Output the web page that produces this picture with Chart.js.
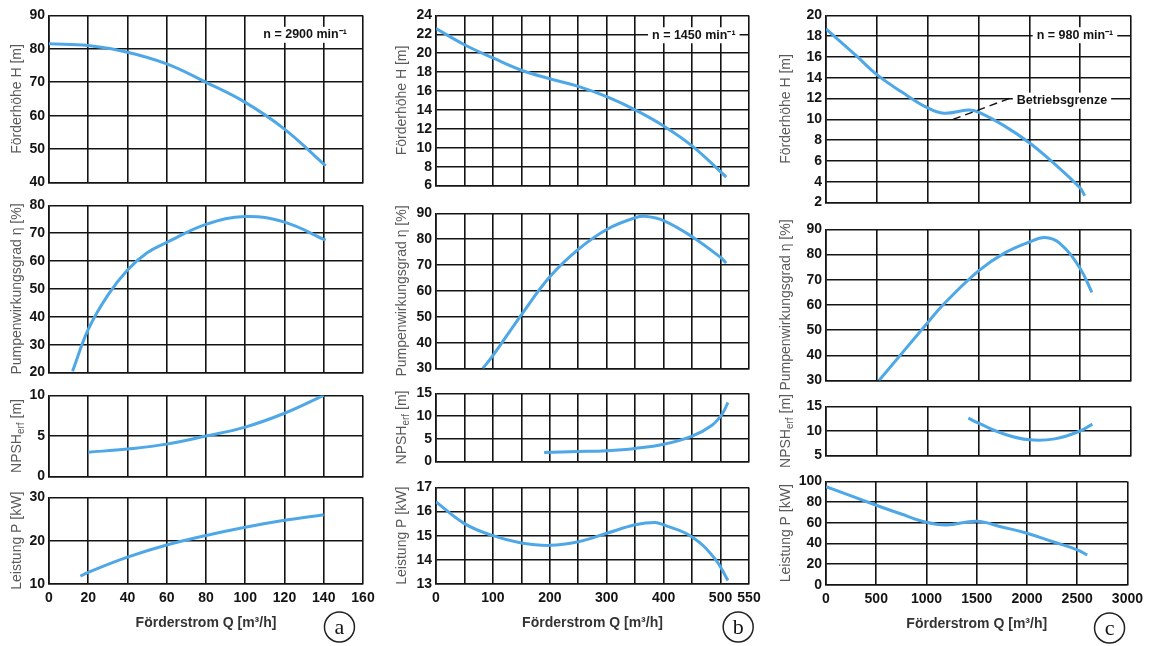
<!DOCTYPE html>
<html>
<head>
<meta charset="utf-8">
<script src="https://cdn.jsdelivr.net/npm/chart.js@4.4.1/dist/chart.umd.min.js"></script>
<style>
  html, body { margin: 0; padding: 0; background: #fff; }
  #page { position: relative; width: 1149px; height: 646px; overflow: hidden; background: #fff; }
  #page canvas { position: absolute; }
</style>
</head>
<body>
<div id="page"></div>
<script>
// (a) n = 2900 min-1
const qA_H = [0, 20, 40, 60, 80, 100, 120, 141];
const hA = [81.5, 81, 79, 75.5, 70, 64, 56, 45];
const qA_eta = [12, 20, 30, 40, 50, 60, 80, 100, 120, 141];
const etaA = [20.5, 35.5, 47.8, 56.8, 63, 66.7, 73.2, 76, 74, 67.5];
const qA_npsh = [20, 40, 60, 80, 100, 120, 140];
const npshA = [3, 3.4, 4, 5, 6.1, 7.8, 10];
const qA_P = [16, 20, 40, 60, 80, 100, 120, 140];
const pA = [11.8, 12.7, 16.2, 19, 21.2, 23.1, 24.7, 26];

// (b) n = 1450 min-1
const qB_H = [0, 50, 100, 150, 200, 250, 300, 350, 400, 450, 510];
const hB = [22.6, 20.9, 19.5, 18.2, 17.3, 16.5, 15.4, 14, 12.3, 10.2, 6.9];
const qB_eta = [82, 100, 150, 200, 250, 300, 350, 370, 400, 450, 500, 510];
const etaB = [30, 35, 50.8, 65.5, 76.1, 83.8, 88.3, 88.8, 87.2, 81, 73, 70.8];
const qB_npsh = [190, 250, 300, 350, 400, 450, 485, 503, 513];
const npshB = [2, 2.2, 2.4, 2.9, 3.8, 5.6, 8, 10.5, 13];
const qB_P = [0, 50, 100, 150, 200, 250, 300, 350, 385, 400, 450, 490, 513];
const pB = [16.4, 15.5, 15, 14.7, 14.6, 14.75, 15.1, 15.45, 15.55, 15.45, 14.95, 14.05, 13.15];

// (c) n = 980 min-1
const qC_H = [0, 300, 500, 750, 1000, 1160, 1400, 1500, 1750, 2000, 2250, 2500, 2545];
const hC = [18.7, 16.1, 14.3, 12.6, 11.1, 10.6, 10.9, 10.7, 9.4, 7.75, 5.7, 3.4, 2.65];
const qC_eta = [520, 750, 1000, 1150, 1500, 1750, 2000, 2150, 2300, 2500, 2615];
const etaC = [30, 41, 53, 60, 73.5, 80.5, 85, 86.8, 84.5, 74.5, 65];
const qC_npsh = [1400, 1500, 1750, 2000, 2250, 2500, 2620];
const npshC = [12.6, 11.6, 9.4, 8.2, 8.4, 10, 11.4];
const qC_P = [0, 500, 750, 1000, 1200, 1500, 1750, 2000, 2250, 2500, 2600];
const pC = [95, 77, 68.5, 60.5, 58, 61.5, 56, 50, 42, 34, 29];

const xTitle = 'Förderstrom Q [m³/h]';
const FONT = "'Liberation Sans', Arial, sans-serif";
const BLUE = '#4ea8e8';
const INK = '#141414';
Chart.defaults.font.family = FONT;

const colA = { left: 49, right: 363, max: 160, step: 20, dx: -32 };
const colB = { left: 436, right: 749, max: 550, step: 50, dx: -34 };
const colC = { left: 826, right: 1131, max: 3000, step: 500, dx: -40 };

const H_TITLE = [{ s: 'Förderhöhe H [m]' }];
const ETA_TITLE = [{ s: 'Pumpenwirkungsgrad η [%]' }];
const NPSH_TITLE = [{ s: 'NPSH' }, { s: 'erf', sub: true }, { s: ' [m]' }];
const P_TITLE = [{ s: 'Leistung P [kW]' }];

function deco(p) {
  return {
    id: 'deco',
    afterDraw(chart) {
      const { ctx, chartArea: a, scales } = chart;
      // rotated y title
      ctx.save();
      ctx.translate(a.left + p.col.dx, (a.top + a.bottom) / 2);
      ctx.rotate(-Math.PI / 2);
      ctx.fillStyle = '#5a5a5a';
      ctx.textBaseline = 'middle';
      ctx.textAlign = 'left';
      const fontOf = t => (t.sub ? '10px ' : '14px ') + FONT;
      const w = p.title.map(t => { ctx.font = fontOf(t); return ctx.measureText(t.s).width; });
      let x = -w.reduce((s, v) => s + v, 0) / 2;
      p.title.forEach((t, i) => {
        ctx.font = fontOf(t);
        ctx.fillText(t.s, x, t.sub ? 4 : 0);
        x += w[i];
      });
      ctx.restore();

      ctx.save();
      if (p.leader) {
        ctx.beginPath();
        ctx.setLineDash([8, 5]);
        ctx.lineWidth = 1.5;
        ctx.strokeStyle = INK;
        ctx.moveTo(scales.x.getPixelForValue(p.leader[0]), scales.y.getPixelForValue(p.leader[1]));
        ctx.lineTo(scales.x.getPixelForValue(p.leader[2]), scales.y.getPixelForValue(p.leader[3]));
        ctx.stroke();
        ctx.setLineDash([]);
      }
      (p.notes || []).forEach(n => {
        const px = scales.x.getPixelForValue(n.x);
        const py = scales.y.getPixelForValue(n.y);
        ctx.font = 'bold 12.5px ' + FONT;
        const tw = ctx.measureText(n.text).width;
        ctx.fillStyle = '#fff';
        ctx.fillRect(px - tw / 2 - 4, py - 8, tw + 8, 16);
        ctx.fillStyle = INK;
        ctx.textAlign = 'center';
        ctx.textBaseline = 'middle';
        ctx.fillText(n.text, px, py);
      });
      if (p.badge) {
        const bx = scales.x.getPixelForValue(p.badge.x);
        const by = a.bottom + 43;
        ctx.beginPath();
        ctx.arc(bx, by, 15, 0, Math.PI * 2);
        ctx.lineWidth = 1.5;
        ctx.strokeStyle = '#222';
        ctx.stroke();
        ctx.font = "22px 'Liberation Serif', serif";
        ctx.fillStyle = INK;
        ctx.textAlign = 'center';
        ctx.textBaseline = 'middle';
        ctx.fillText(p.badge.t, bx, by + 1);
      }
      ctx.restore();
    }
  };
}

function makePanel(p) {
  const padTop = 12, padRight = 18, yW = 50;
  const xH = p.badge ? 48 : 0;
  const padBottom = p.badge ? 14 : 10;
  const plotW = p.col.right - p.col.left;
  const plotH = p.bottom - p.top;
  const c = document.createElement('canvas');
  c.width = yW + plotW + padRight;
  c.height = padTop + plotH + xH + padBottom;
  c.style.left = (p.col.left - yW) + 'px';
  c.style.top = (p.top - padTop) + 'px';
  document.getElementById('page').appendChild(c);

  const grid = { color: INK, lineWidth: 1.6, drawTicks: false };
  const border = { display: true, color: INK, width: 1.6 };
  const tickFont = { size: 14, weight: 'bold', family: FONT };

  return new Chart(c, {
    type: 'line',
    data: {
      datasets: [{
        data: p.xs.map((x, i) => ({ x, y: p.ys[i] })),
        borderColor: BLUE,
        borderWidth: 3,
        pointRadius: 0,
        fill: false,
        tension: 0.4
      }]
    },
    options: {
      responsive: false,
      animation: false,
      devicePixelRatio: 1,
      events: [],
      layout: { padding: { top: padTop, right: padRight, bottom: padBottom, left: 0 } },
      plugins: { legend: { display: false }, tooltip: { enabled: false } },
      scales: {
        x: {
          type: 'linear',
          min: 0,
          max: p.col.max,
          afterFit(s) { s.height = xH; },
          grid,
          border,
          ticks: {
            display: !!p.badge,
            stepSize: p.col.step,
            autoSkip: false,
            maxRotation: 0,
            padding: 6,
            color: INK,
            font: tickFont,
            callback: v => (p.col.max === 550 && v % 100 !== 0 && v !== 550) ? '' : v
          },
          title: {
            display: !!p.badge,
            text: xTitle,
            color: '#333',
            padding: 0,
            font: { size: 14, weight: 'bold', family: FONT }
          }
        },
        y: {
          min: p.yMin,
          max: p.yMax,
          afterFit(s) { s.width = yW; },
          grid,
          border,
          ticks: { stepSize: p.yStep, padding: 4, color: INK, font: tickFont, autoSkip: false }
        }
      }
    },
    plugins: [deco(p)]
  });
}

// column a
makePanel({ col: colA, top: 15, bottom: 185, yMin: 40, yMax: 90, yStep: 10, xs: qA_H, ys: hA, title: H_TITLE,
  notes: [{ x: 130.5, y: 84.2, text: 'n = 2900 min⁻¹' }] });
makePanel({ col: colA, top: 205, bottom: 375, yMin: 20, yMax: 80, yStep: 10, xs: qA_eta, ys: etaA, title: ETA_TITLE });
makePanel({ col: colA, top: 395, bottom: 479, yMin: 0, yMax: 10, yStep: 5, xs: qA_npsh, ys: npshA, title: NPSH_TITLE });
makePanel({ col: colA, top: 497, bottom: 584, yMin: 10, yMax: 30, yStep: 10, xs: qA_P, ys: pA, title: P_TITLE,
  badge: { x: 148, t: 'a' } });

// column b
makePanel({ col: colB, top: 15, bottom: 188, yMin: 6, yMax: 24, yStep: 2, xs: qB_H, ys: hB, title: H_TITLE,
  notes: [{ x: 453, y: 21.9, text: 'n = 1450 min⁻¹' }] });
makePanel({ col: colB, top: 213, bottom: 371, yMin: 30, yMax: 90, yStep: 10, xs: qB_eta, ys: etaB, title: ETA_TITLE });
makePanel({ col: colB, top: 393, bottom: 464, yMin: 0, yMax: 15, yStep: 5, xs: qB_npsh, ys: npshB, title: NPSH_TITLE });
makePanel({ col: colB, top: 487, bottom: 584, yMin: 13, yMax: 17, yStep: 1, xs: qB_P, ys: pB, title: P_TITLE,
  badge: { x: 531, t: 'b' } });

// column c
makePanel({ col: colC, top: 15, bottom: 205, yMin: 2, yMax: 20, yStep: 2, xs: qC_H, ys: hC, title: H_TITLE,
  notes: [{ x: 2449, y: 18.1, text: 'n = 980 min⁻¹' }, { x: 2321, y: 11.8, text: 'Betriebsgrenze' }],
  leader: [1249, 10.0, 1829, 12.1] });
makePanel({ col: colC, top: 229, bottom: 383, yMin: 30, yMax: 90, yStep: 10, xs: qC_eta, ys: etaC, title: ETA_TITLE });
makePanel({ col: colC, top: 406, bottom: 458, yMin: 5, yMax: 15, yStep: 5, xs: qC_npsh, ys: npshC, title: NPSH_TITLE });
makePanel({ col: colC, top: 481, bottom: 585, yMin: 0, yMax: 100, yStep: 20, xs: qC_P, ys: pC, title: P_TITLE,
  badge: { x: 2822, t: 'c' } });
</script>
</body>
</html>
